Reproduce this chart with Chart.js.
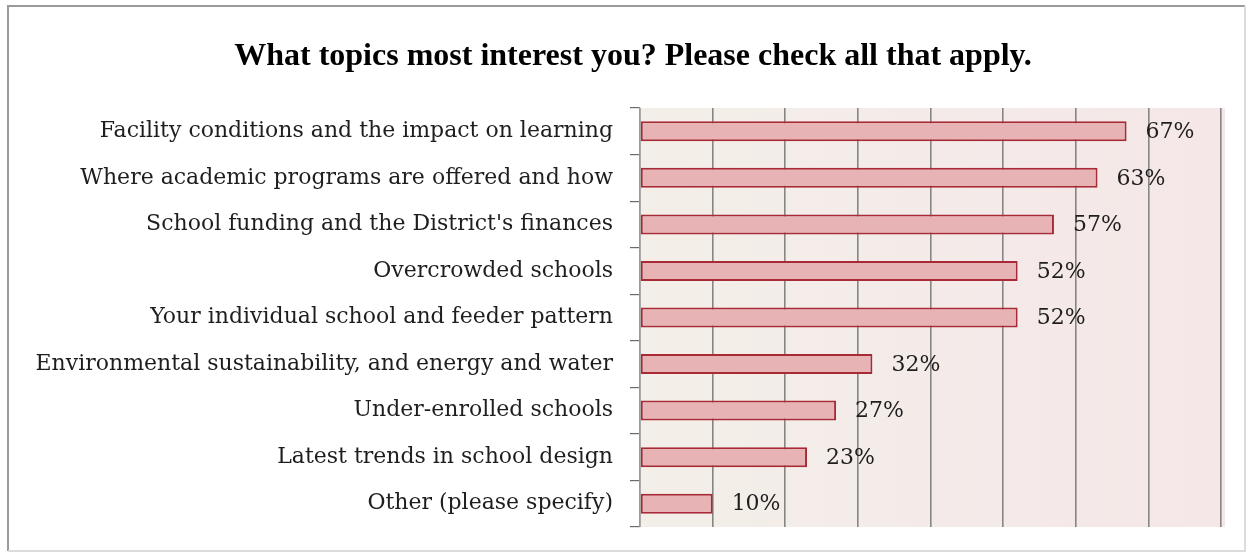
<!DOCTYPE html>
<html>
<head>
<meta charset="utf-8">
<script src="https://cdn.jsdelivr.net/npm/chart.js@4.4.1/dist/chart.umd.min.js"></script>
<style>
  html, body { margin: 0; padding: 0; background: #ffffff; }
  #wrap { position: relative; width: 1252px; height: 560px; }
  canvas { display: block; }
</style>
</head>
<body>
<div id="wrap"><canvas id="c" width="1252" height="560"></canvas></div>
<script>
const chartTitle = "What topics most interest you? Please check all that apply.";
const categories = [
  "Facility conditions and the impact on learning",
  "Where academic programs are offered and how",
  "School funding and the District's finances",
  "Overcrowded schools",
  "Your individual school and feeder pattern",
  "Environmental sustainability, and energy and water",
  "Under-enrolled schools",
  "Latest trends in school design",
  "Other (please specify)"
];
const percentValues = [67, 63, 57, 52, 52, 32, 27, 23, 10];
const axisMin = 0;
const axisMax = 80;
const axisStep = 10;

const framePlugin = {
  id: 'frame',
  beforeDraw(chart) {
    const ctx = chart.ctx;
    const a = chart.chartArea;
    ctx.save();
    ctx.fillStyle = '#ffffff';
    ctx.fillRect(0, 0, chart.width, chart.height);
    // outer frame
    ctx.strokeStyle = '#9a9a9a';
    ctx.lineWidth = 2;
    ctx.beginPath();
    ctx.moveTo(8, 551); ctx.lineTo(8, 6); ctx.lineTo(1245, 6);
    ctx.stroke();
    ctx.strokeStyle = '#dcdcdc';
    ctx.beginPath();
    ctx.moveTo(1245, 6); ctx.lineTo(1245, 551); ctx.lineTo(8, 551);
    ctx.stroke();
    // plot background gradient
    const g = ctx.createLinearGradient(a.left, 0, a.right, 0);
    g.addColorStop(0, '#f3efe8');
    g.addColorStop(0.5, '#f4ebe9');
    g.addColorStop(1, '#f5e7e7');
    ctx.fillStyle = g;
    ctx.fillRect(a.left, a.top, a.right - a.left + 4, a.bottom - a.top);
    // title
    ctx.font = 'bold 32px "Liberation Serif", "Times New Roman", serif';
    ctx.fillStyle = '#000000';
    ctx.textAlign = 'center';
    ctx.textBaseline = 'middle';
    ctx.fillText(chartTitle, 633, 57);
    ctx.restore();
  },
  afterDatasetsDraw(chart) {
    const ctx = chart.ctx;
    const meta = chart.getDatasetMeta(0);
    ctx.save();
    ctx.font = '22px "DejaVu Serif", serif';
    ctx.fillStyle = '#1e1e1e';
    ctx.textBaseline = 'middle';
    ctx.textAlign = 'left';
    meta.data.forEach((bar, i) => {
      ctx.fillText(percentValues[i] + '%', bar.x + 19, bar.y + 1);
    });
    ctx.restore();
  }
};

new Chart(document.getElementById('c'), {
  type: 'bar',
  data: {
    labels: categories,
    datasets: [{
      data: percentValues,
      backgroundColor: '#e8b3b5',
      borderColor: '#a82a36',
      borderWidth: 2,
      borderSkipped: false,
      categoryPercentage: 1,
      barPercentage: 0.43
    }]
  },
  options: {
    indexAxis: 'y',
    responsive: false,
    animation: false,
    events: [],
    layout: { padding: { left: 0, right: 31, top: 108, bottom: 33 } },
    plugins: {
      legend: { display: false },
      tooltip: { enabled: false },
      title: { display: false }
    },
    scales: {
      x: {
        min: axisMin,
        max: axisMax,
        ticks: { display: false, stepSize: axisStep },
        grid: { color: '#858585', lineWidth: 1.6, drawTicks: false },
        border: { display: false },
        afterFit(s) { s.height = 0; }
      },
      y: {
        offset: true,
        ticks: {
          color: '#1e1e1e',
          font: { family: '"DejaVu Serif", serif', size: 22 },
          padding: 17
        },
        grid: { offset: true, drawOnChartArea: false, tickLength: 10, color: '#6a6a6a', lineWidth: 1.2 },
        border: { display: true, color: '#9a9a9a', width: 1.2 },
        afterFit(s) { s.width = 640; }
      }
    }
  },
  plugins: [framePlugin]
});
</script>
</body>
</html>
